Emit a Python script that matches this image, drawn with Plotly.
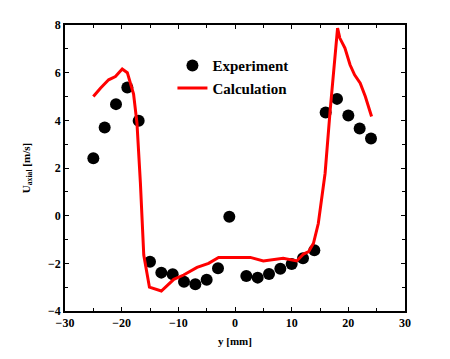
import plotly.graph_objects as go

exp_x = [-25, -23, -21, -19, -17, -15, -13, -11, -9, -7, -5, -3, -1,
         2, 4, 6, 8, 10, 12, 14, 16, 18, 20, 22, 24]
exp_y = [2.41, 3.70, 4.68, 5.38, 3.98, -1.93, -2.39, -2.46, -2.77, -2.88, -2.69, -2.21, -0.05,
         -2.53, -2.60, -2.45, -2.23, -2.03, -1.79, -1.45, 4.33, 4.90, 4.20, 3.66, 3.24]

calc_x = [-25, -23.75, -22.3, -21.1, -19.9, -19.0, -17.9, -17.3, -16.7, -16.1, -15.1, -13.0,
          -10.8, -9.07, -6.7, -4.66, -2.9, -1.7, 2.7, 5.0, 8.5, 10.9, 12.1, 13.0, 13.85,
          14.7, 15.3, 15.9, 16.8, 18.1, 18.5, 19.4, 20.3, 21.1, 22.1, 23.0, 24.1]
calc_y = [5.0, 5.35, 5.7, 5.84, 6.15, 6.0, 5.1, 3.88, 1.4, -1.65, -3.0, -3.16,
          -2.67, -2.49, -2.17, -2.0, -1.75, -1.75, -1.75, -1.9, -1.79, -1.9, -1.61, -1.51, -1.16,
          -0.33, 0.8, 1.78, 4.44, 7.87, 7.45, 7.03, 6.33, 5.91, 5.56, 5.0, 4.16]

fig = go.Figure()
fig.add_trace(go.Scatter(x=exp_x, y=exp_y, mode="markers", name="Experiment",
                         marker=dict(color="black", size=12)))
fig.add_trace(go.Scatter(x=calc_x, y=calc_y, mode="lines", name="Calculation",
                         line=dict(color="#ff0000", width=3)))

tickfont = dict(family="Liberation Serif", size=12, color="black", weight="bold")
axcommon = dict(showline=True, linecolor="black", linewidth=1.5, mirror="allticks",
                ticks="inside", ticklen=4, tickcolor="black", tickwidth=1,
                showgrid=False, zeroline=False, tickfont=tickfont, automargin=False)

fig.update_layout(
    width=442, height=351,
    margin=dict(l=56.5, r=45, t=17, b=48),
    paper_bgcolor="white", plot_bgcolor="white",
    showlegend=True,
    legend=dict(x=0.316, y=0.915, xanchor="left", yanchor="top",
                bgcolor="rgba(0,0,0,0)", tracegroupgap=0,
                font=dict(family="Liberation Serif", size=15, color="black", weight="bold")),
    xaxis=dict(range=[-30, 30], tickvals=[-30, -20, -10, 0, 10, 20, 30],
               minor=dict(dtick=5, ticks="inside", ticklen=3, tickcolor="black"),
               title=dict(text="y [mm]", standoff=8,
                          font=dict(family="Liberation Serif", size=11, color="black", weight="bold")),
               **axcommon),
    yaxis=dict(range=[-4, 8], tickvals=[-4, -2, 0, 2, 4, 6, 8],
               minor=dict(dtick=1, ticks="inside", ticklen=3, tickcolor="black"),
               title=dict(text="U<sub>axial</sub> [m/s]", standoff=15,
                          font=dict(family="Liberation Serif", size=11, color="black", weight="bold")),
               **axcommon),
)

fig.write_html("out.html")
